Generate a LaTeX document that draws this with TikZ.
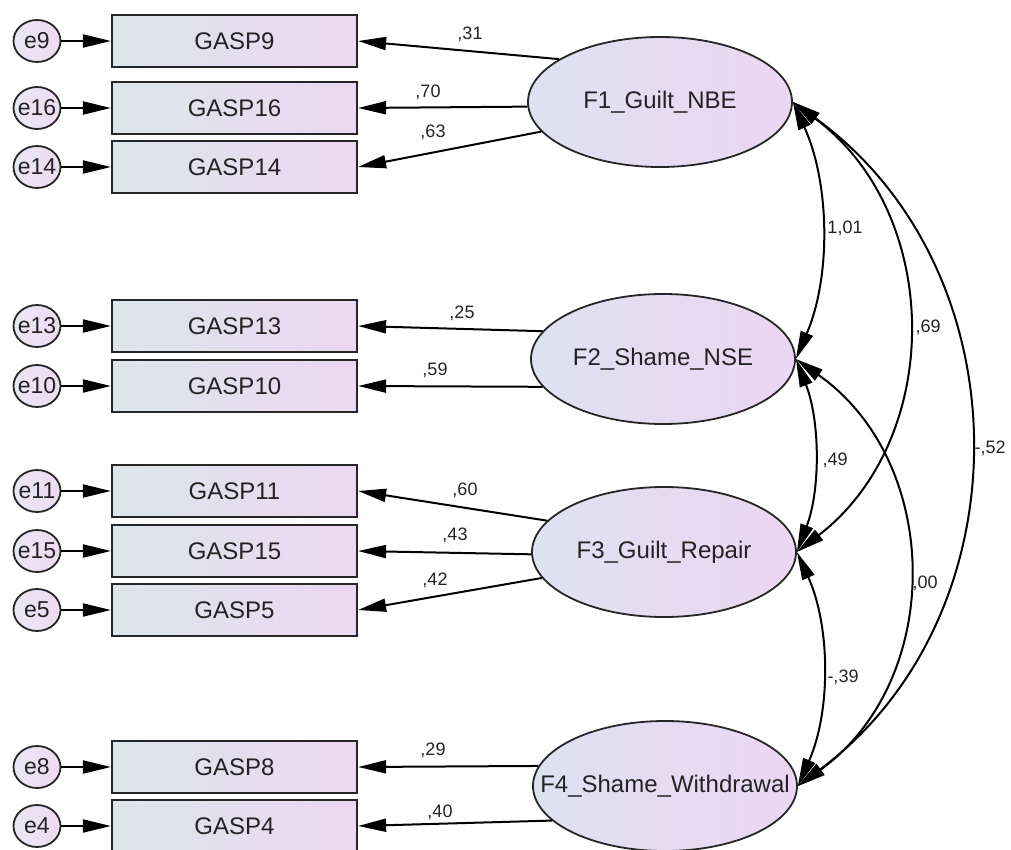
\documentclass[tikz,border=0pt]{standalone}
\usepackage{fontspec}
\setmainfont{Liberation Sans}
\usetikzlibrary{arrows.meta,shapes.geometric}
\definecolor{bxL}{RGB}{220,230,234}
\definecolor{bxR}{RGB}{236,216,242}
\definecolor{elL}{RGB}{222,226,240}
\definecolor{elR}{RGB}{236,214,244}
\definecolor{erL}{RGB}{232,232,244}
\definecolor{erR}{RGB}{240,218,242}
\definecolor{txt}{RGB}{35,35,35}
\begin{document}
\begin{tikzpicture}[x=1pt,y=-1pt,
  >={Triangle[length=28pt,width=13pt]},
  obs/.style={draw=black!85, line width=2.2pt, rectangle, minimum width=245pt, minimum height=52pt, inner sep=0pt, left color=bxL, right color=bxR, font=\fontsize{24}{24}\selectfont, text=txt},
  lat/.style={draw=black!85, line width=1.8pt, ellipse, minimum width=264pt, minimum height=130pt, inner sep=0pt, left color=elL, right color=elR, font=\fontsize{24}{24}\selectfont, text=txt},
  err/.style={draw=black!85, line width=1.8pt, ellipse, minimum width=47pt, minimum height=42pt, inner sep=0pt, left color=erL, right color=erR, font=\fontsize{23}{23}\selectfont, text=txt},
  reg/.style={line width=2pt, ->},
  cov/.style={line width=2pt, <->},
  coef/.style={font=\fontsize{18}{18}\selectfont, text=txt, inner sep=0pt},
]
\useasboundingbox (0,0) rectangle (1011,850);

% observed variables
\node[obs] (G9)  at (234.5,41)  {GASP9};
\node[obs] (G16) at (234.5,108) {GASP16};
\node[obs] (G14) at (234.5,167) {GASP14};
\node[obs] (G13) at (234.5,326) {GASP13};
\node[obs] (G10) at (234.5,386) {GASP10};
\node[obs] (G11) at (234.5,491) {GASP11};
\node[obs] (G15) at (234.5,551) {GASP15};
\node[obs] (G5)  at (234.5,610) {GASP5};
\node[obs] (G8)  at (234.5,767) {GASP8};
\node[obs] (G4)  at (234.5,826) {GASP4};

% errors
\node[err] (e9)  at (37,41)  {\makebox[0pt]{e9}};
\node[err] (e16) at (37,108) {\makebox[0pt]{e16}};
\node[err] (e14) at (37,167) {\makebox[0pt]{e14}};
\node[err] (e13) at (37,326) {\makebox[0pt]{e13}};
\node[err] (e10) at (37,386) {\makebox[0pt]{e10}};
\node[err] (e11) at (37,491) {\makebox[0pt]{e11}};
\node[err] (e15) at (37,551) {\makebox[0pt]{e15}};
\node[err] (e5)  at (37,610) {\makebox[0pt]{e5}};
\node[err] (e8)  at (37,767) {\makebox[0pt]{e8}};
\node[err] (e4)  at (37,826) {\makebox[0pt]{e4}};

% latent factors
\node[lat] (F1) at (660,102) {\makebox[0pt]{F1\_Guilt\_NBE}};
\node[lat] (F2) at (663,359) {\makebox[0pt]{F2\_Shame\_NSE}};
\node[lat] (F3) at (664,552) {\makebox[0pt]{F3\_Guilt\_Repair}};
\node[lat] (F4) at (665,786) {\makebox[0pt]{F4\_Shame\_Withdrawal}};

% error arrows
\foreach \n in {9,16,14,13,10,11,15,5,8,4}
  \draw[reg] (e\n) -- (G\n);

% loadings
\draw[reg] (F1.157) -- (G9.east);
\draw[reg] (F1.182) -- (G16.east);
\draw[reg] (F1.194) -- (G14.east);
\draw[reg] (F2.167) -- (G13.east);
\draw[reg] (F2.193) -- (G10.east);
\draw[reg] (F3.165.5) -- (G11.east);
\draw[reg] (F3.181) -- (G15.east);
\draw[reg] (F3.192.7) -- (G5.east);
\draw[reg] (F4.171.4) -- (G8.east);
\draw[reg] (F4.197) -- (G4.east);

\node[coef] (c31) at (470,34)  {,31};
\node[coef] (c70) at (428,92)  {,70};
\node[coef] (c63) at (433,132) {,63};
\node[coef] (c25) at (462,313) {,25};
\node[coef] (c59) at (435,370) {,59};
\node[coef] (c60) at (465,490) {,60};
\node[coef] (c43) at (455,535) {,43};
\node[coef] (c42) at (435,580) {,42};
\node[coef] (c29) at (433,750) {,29};
\node[coef] (c40) at (440,812) {,40};

% covariances
\draw[cov] (F1.east) to[bend left=23.8, looseness=0.89] (F2.east);
\draw[cov] (F1.east) to[bend left=52.9, looseness=1.06] (F3.east);
\draw[cov] (F1.east) to[bend left=53.7, looseness=1.07] (F4.east);
\draw[cov] (F2.east) to[bend left=21.1, looseness=0.88] (F3.east);
\draw[cov] (F2.east) to[bend left=54.5, looseness=1.08] (F4.east);
\draw[cov] (F3.east) to[bend left=24.1, looseness=0.89] (F4.east);

\node[coef] (k101) at (845,228) {1,01};
\node[coef] (k69)  at (928,327) {,69};
\node[coef] (k52)  at (990,448) {-,52};
\node[coef] (k49)  at (835,460) {,49};
\node[coef] (k00)  at (925,583) {,00};
\node[coef] (k39)  at (843,677) {-,39};
\end{tikzpicture}
\end{document}
